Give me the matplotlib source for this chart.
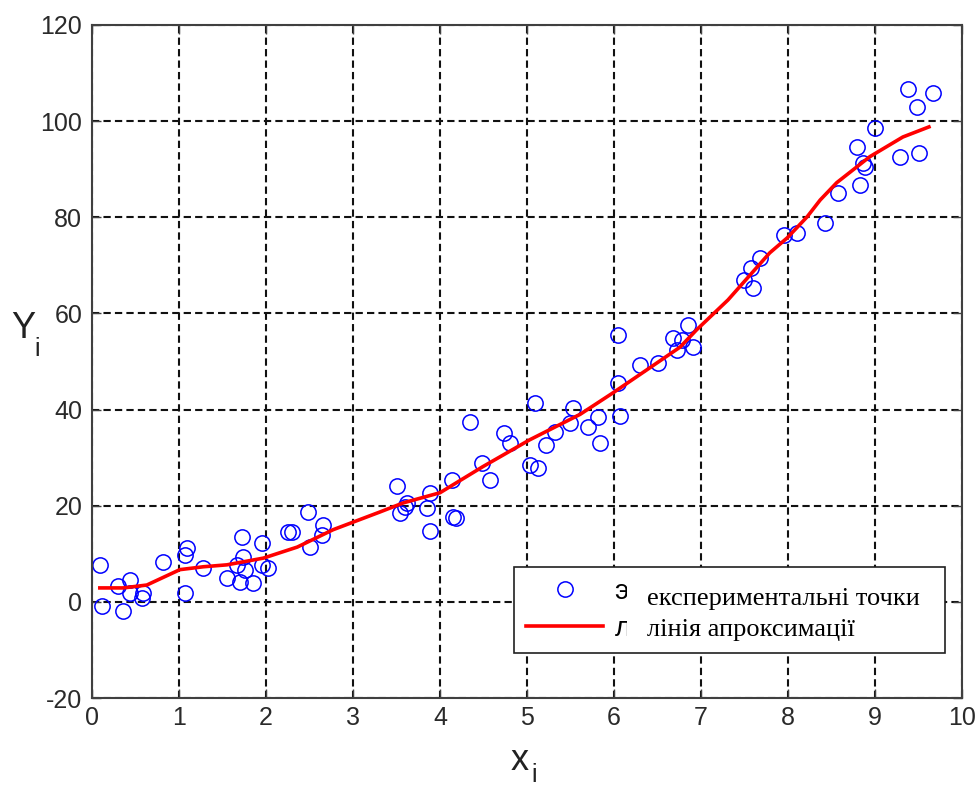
import numpy as np
import matplotlib
matplotlib.use('Agg')
import matplotlib.pyplot as plt
from matplotlib.patches import Rectangle

plt.rcParams['axes.unicode_minus'] = False

# experimental points
x_pts = [0.09, 0.11, 0.30, 0.36, 0.44, 0.44, 0.57, 0.59, 0.82, 1.07,
         1.09, 1.07, 1.28, 1.55, 1.67, 1.70, 1.72, 1.74, 1.76, 1.85,
         1.95, 1.95, 2.02, 2.25, 2.30, 2.48, 2.51, 2.64, 2.66, 3.50,
         3.54, 3.60, 3.62, 3.85, 3.89, 3.89, 4.14, 4.15, 4.18, 4.34,
         4.48, 4.57, 4.73, 4.80, 5.03, 5.13, 5.09, 5.22, 5.32, 5.49,
         5.53, 5.70, 5.82, 5.84, 6.07, 6.05, 6.05, 6.30, 6.51, 6.68,
         6.72, 6.78, 6.85, 6.91, 7.49, 7.58, 7.60, 7.68, 7.95, 8.10,
         8.43, 8.58, 8.79, 8.83, 8.86, 8.89, 9.00, 9.29, 9.38, 9.48,
         9.50, 9.67]
y_pts = [7.6, -0.8, 3.3, -2.0, 4.6, 1.9, 0.8, 1.9, 8.3, 9.8,
         11.2, 1.9, 7.1, 5.0, 7.7, 4.2, 13.5, 9.4, 6.7, 3.9,
         12.3, 7.7, 7.1, 14.6, 14.6, 18.7, 11.4, 13.9, 16.0, 24.1,
         18.5, 19.8, 20.6, 19.6, 22.7, 14.8, 25.4, 17.7, 17.5, 37.5,
         28.9, 25.4, 35.2, 33.0, 28.5, 27.9, 41.4, 32.7, 35.4, 37.2,
         40.4, 36.4, 38.5, 33.0, 38.7, 45.5, 55.5, 49.3, 49.7, 54.9,
         52.4, 54.5, 57.6, 53.0, 67.0, 69.5, 65.3, 71.5, 76.3, 76.8,
         78.8, 85.0, 94.6, 86.7, 91.3, 90.5, 98.6, 92.6, 106.7, 103.0,
         93.4, 105.9]

# approximation curve
x_fit = [0.09, 0.36, 0.63, 1.01, 1.28, 1.55, 1.97, 2.36, 2.77, 3.31,
         3.58, 4.00, 4.49, 5.03, 5.61, 5.99, 6.38, 6.76, 6.95, 7.31,
         7.79, 7.99, 8.22, 8.37, 8.56, 8.94, 9.32, 9.62]
y_fit = [2.9, 2.9, 3.5, 6.7, 7.3, 7.7, 9.1, 11.4, 15.0, 18.7,
         20.6, 22.7, 28.1, 33.7, 39.0, 43.5, 48.3, 53.0, 56.6, 62.8,
         72.6, 75.7, 80.1, 83.6, 87.2, 92.6, 96.7, 98.8]

x_ticks = list(range(0, 11))
y_ticks = list(range(-20, 121, 20))

W, H = 978, 787
fig = plt.figure(figsize=(W / 100, H / 100), dpi=100)
ax = fig.add_axes([92 / W, 1 - 698 / H, (962 - 92) / W, (698 - 25) / H])

p1, = ax.plot(x_pts, y_pts, 'o', mfc='none', mec='#0000ff', ms=11, mew=1.1)
p2, = ax.plot(x_fit, y_fit, '-', color='#ff0000', lw=2.6)

ax.set_xlim(0, 10)
ax.set_ylim(-20, 120)
ax.set_xticks(x_ticks)
ax.set_yticks(y_ticks)
ax.grid(True, color='#111111', linestyle=(0, (3.5, 2.0)), linewidth=1.5)
ax.set_axisbelow(True)
for s in ax.spines.values():
    s.set_linewidth(1.5)
    s.set_color('#404040')
ax.tick_params(direction='in', top=True, right=True, length=6.5, width=1.0,
               color='#404040', labelsize=18, labelcolor='#2a2a2a')
ax.tick_params(axis='x', pad=6)
ax.tick_params(axis='y', pad=7)
for lab in ax.get_xticklabels() + ax.get_yticklabels():
    lab.set_family('Liberation Sans')

# axis labels with subscripts
fig.text(11 / W, 1 - 338 / H, 'Y', fontsize=26, family='Liberation Sans',
         color='#222222', va='baseline')
fig.text(34 / W, 1 - 356 / H, 'i', fontsize=18, family='Liberation Sans',
         color='#222222', va='baseline')
fig.text(511 / W, 1 - 770 / H, 'x', fontsize=26, family='Liberation Sans',
         color='#222222', va='baseline')
fig.text(531 / W, 1 - 782 / H, 'i', fontsize=18, family='Liberation Sans',
         color='#222222', va='baseline')

leg = ax.legend([p1, p2], ['э', 'л'],
                loc='upper left',
                bbox_to_anchor=(514 / W, 1 - 567 / H, (945 - 514) / W, 0),
                bbox_transform=fig.transFigure, mode='expand',
                borderaxespad=0, fancybox=False, framealpha=1,
                edgecolor='#202020', numpoints=1, handlelength=2.8,
                handletextpad=0.4, borderpad=0.42, labelspacing=0.4,
                prop={'family': 'Liberation Sans', 'size': 20})
leg.get_frame().set_linewidth(1.2)

# Ukrainian labels placed over the legend text
fig.add_artist(Rectangle((627 / W, 1 - 649 / H), (942 - 627) / W, 80 / H,
                         transform=fig.transFigure, facecolor='white',
                         edgecolor='none', zorder=10))
fig.text(647 / W, 1 - 605 / H, 'експериментальні точки', fontsize=19,
         family='Liberation Serif', va='baseline', zorder=11)
fig.text(647 / W, 1 - 636 / H, 'лінія апроксимації', fontsize=19,
         family='Liberation Serif', va='baseline', zorder=11)

fig.savefig('out.png', dpi=100)
